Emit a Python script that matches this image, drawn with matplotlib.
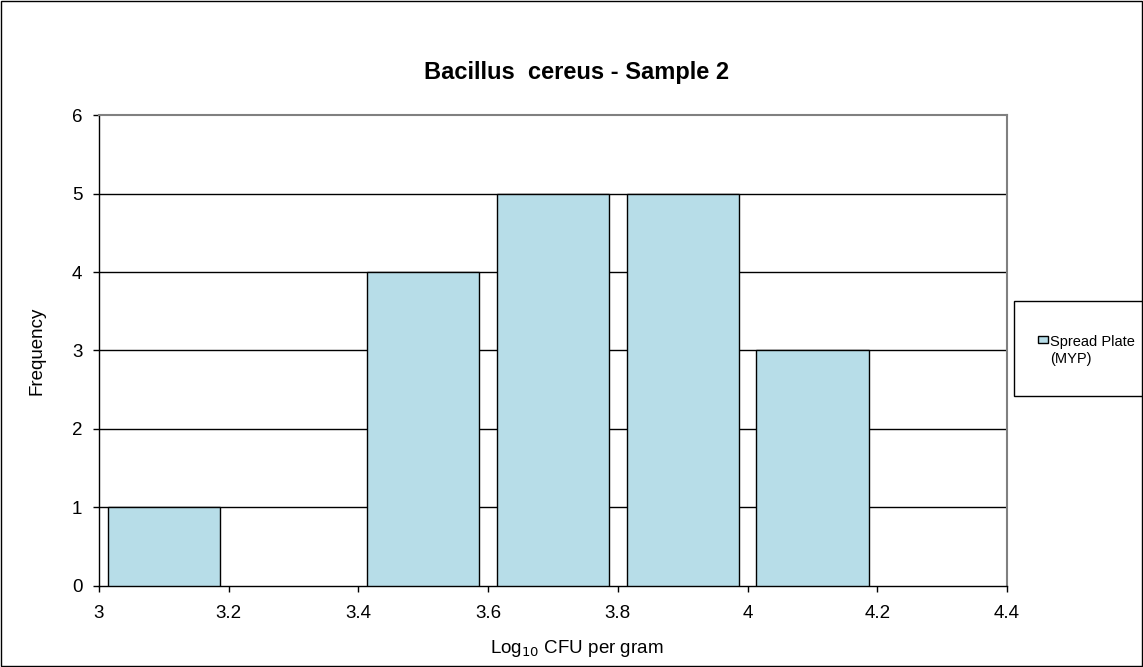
import numpy as np
import matplotlib as mpl
import matplotlib.pyplot as plt
from matplotlib.patches import Rectangle

mpl.rcParams['font.family'] = ['Liberation Sans', 'DejaVu Sans']

#
# Data
#
bin_centers = [3.1, 3.3, 3.5, 3.7, 3.9, 4.1, 4.3]
frequency = [1, 0, 4, 5, 5, 3, 0]
x_ticks = [3, 3.2, 3.4, 3.6, 3.8, 4, 4.2, 4.4]
x_tick_labels = ['3', '3.2', '3.4', '3.6', '3.8', '4', '4.2', '4.4']
y_ticks = [0, 1, 2, 3, 4, 5, 6]
series_name = 'Spread Plate\n(MYP)'

bar_color = '#b7dde8'
W, H = 1143, 667


def px_rect(x0, y0, x1, y1, **kw):
    ''' Rectangle in figure coords from pixel corners (top-left origin). '''
    return Rectangle((x0 / W, 1 - y1 / H), (x1 - x0) / W, (y1 - y0) / H,
                     transform=fig.transFigure, **kw)


fig = plt.figure(figsize=(W / 100, H / 100), dpi=100)
ax = fig.add_axes([99 / W, 1 - 585.7 / H, 908 / W, 470.5 / H])

# zero bars get no outline (nothing visible in the original)
edges = ['black' if f > 0 else 'none' for f in frequency]
ax.bar(bin_centers, frequency, width=0.173, color=bar_color,
       edgecolor=edges, linewidth=1.0, zorder=3)

ax.set_xlim(3, 4.4)
ax.set_ylim(0, 6)
ax.set_xticks(x_ticks)
ax.set_xticklabels(x_tick_labels)
ax.set_yticks(y_ticks)
ax.tick_params(direction='out', length=4, width=1, labelsize=13.5,
               colors='black')
ax.tick_params(axis='x', pad=10)
ax.tick_params(axis='y', pad=8)

# horizontal gridlines
for y in y_ticks[1:-1]:
    ax.axhline(y, color='black', linewidth=1.0, zorder=1)

for side in ['top', 'right']:
    ax.spines[side].set_color('#808080')
    ax.spines[side].set_linewidth(1.5)
ax.spines['left'].set_linewidth(1.0)
ax.spines['bottom'].set_linewidth(1.0)

fig.text(577 / W, 1 - 72 / H, 'Bacillus  cereus - Sample 2', fontsize=17,
         fontweight='bold', ha='center', va='center')
ax.set_xlabel('Log$_{10}$ CFU per gram', fontsize=13.5, va='top')
ax.xaxis.set_label_coords((577 - 99) / 908, (585.7 - 638) / 470.5)
ax.set_ylabel('Frequency', fontsize=13.5, va='center')
ax.yaxis.set_label_coords((37 - 99) / 908, 0.5)

#
# Legend, drawn by hand so the key sits on the first text line
#
fig.patches.append(px_rect(1014, 301, 1143, 396, fill=False,
                           edgecolor='black', linewidth=1.0))
fig.patches.append(px_rect(1038, 336.5, 1048, 343.5, facecolor=bar_color,
                           edgecolor='black', linewidth=1.0))
fig.text(1050.5 / W, 1 - 350.5 / H, series_name, fontsize=10.5,
         ha='left', va='center', linespacing=1.25)

# outer border of the chart area
fig.patches.append(px_rect(0.5, 0.5, W - 1, H - 1, fill=False,
                           edgecolor='black', linewidth=1.0))

fig.savefig('out.png', dpi=100)
